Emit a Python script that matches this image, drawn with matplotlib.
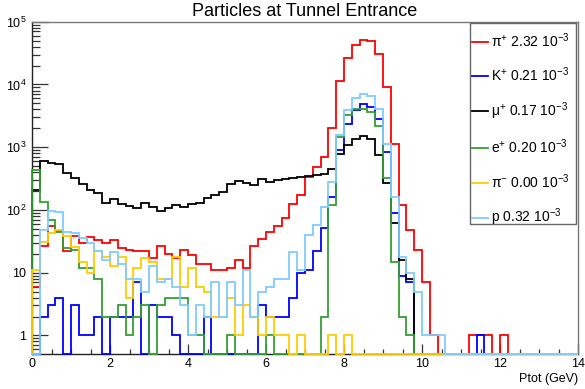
import numpy as np
import matplotlib
matplotlib.use("Agg")
import matplotlib.pyplot as plt
from matplotlib.lines import Line2D
from matplotlib.patches import Rectangle
from matplotlib.ticker import FixedLocator, FixedFormatter, LogLocator, MultipleLocator, NullFormatter

plt.rcParams['font.family'] = ['Liberation Sans', 'DejaVu Sans']
plt.rcParams['mathtext.fontset'] = 'custom'
plt.rcParams['mathtext.rm'] = 'Liberation Sans'
plt.rcParams['mathtext.it'] = 'Liberation Sans:italic'
plt.rcParams['mathtext.bf'] = 'Liberation Sans:bold'

# ---- data: 70 bins of 0.2 GeV from 0 to 14 ----
bin_edges = np.linspace(0, 14, 71)

pi_plus = [6, 27, 55, 47, 22, 38, 30, 37, 33, 30,
           33, 25, 23, 22, 22, 17, 27, 20, 17, 23,
           19, 14, 14, 11, 11, 12, 16, 12, 27, 35,
           45, 55, 75, 125, 173, 338, 488, 701, 2000, 11200,
           26400, 42900, 52000, 48700, 30200, 9000, 1130, 120, 48, 23,
           7, 1, 0, 0, 0, 0, 1, 1, 1, 0,
           1, 0, 0, 0, 0, 0, 0, 0, 0, 0]

k_plus = [0, 2, 3, 4, 0, 3, 1, 1, 2, 0,
          2, 2, 2, 7, 0, 3, 2, 2, 1, 0,
          0, 0, 2, 0, 0, 0, 0, 0, 0, 3,
          2, 2, 2, 4, 10, 11, 22, 51, 163, 900,
          2380, 3900, 4820, 4400, 2800, 830, 88, 9, 7, 0,
          0, 0, 0, 0, 0, 0, 0, 1, 0, 0,
          0, 0, 0, 0, 0, 0, 0, 0, 0, 0]

mu_plus = [208, 606, 565, 537, 391, 320, 255, 205, 184, 130,
           150, 126, 116, 107, 128, 111, 96, 108, 118, 113,
           124, 130, 155, 173, 190, 262, 285, 266, 249, 307,
           281, 299, 307, 318, 338, 351, 359, 370, 455, 770,
           1070, 1350, 1496, 1372, 747, 266, 62, 16, 8, 0,
           0, 0, 0, 0, 0, 0, 0, 0, 0, 0,
           0, 0, 0, 0, 0, 0, 0, 0, 0, 0]

e_plus = [431, 135, 69, 45, 25, 23, 12, 12, 8, 2,
          2, 3, 1, 2, 3, 0, 3, 4, 4, 4,
          1, 1, 0, 0, 0, 1, 0, 0, 0, 0,
          1, 0, 0, 0, 0, 0, 0, 2, 120, 1450,
          3220, 4110, 4110, 3630, 2150, 320, 15, 2, 1, 0,
          0, 0, 0, 0, 0, 0, 0, 0, 0, 0,
          0, 0, 0, 0, 0, 0, 0, 0, 0, 0]

pi_minus = [11, 31, 43, 48, 38, 26, 15, 10, 22, 18,
            13, 18, 4, 12, 17, 15, 8, 8, 18, 6,
            12, 6, 5, 2, 2, 4, 1, 3, 2, 1,
            2, 1, 1, 0, 1, 0, 0, 0, 1, 0,
            1, 0, 0, 0, 0, 0, 0, 0, 0, 0,
            0, 0, 0, 0, 0, 0, 0, 0, 0, 0,
            0, 0, 0, 0, 0, 0, 0, 0, 0, 0]

proton = [0, 48, 95, 92, 45, 43, 36, 30, 22, 16,
          21, 14, 8, 8, 5, 13, 7, 8, 6, 3,
          1, 3, 2, 7, 2, 7, 3, 11, 2, 5,
          6, 8, 8, 21, 11, 40, 58, 113, 281, 1550,
          3960, 6150, 7110, 6450, 4110, 1140, 163, 18, 10, 5,
          1, 1, 1, 0, 0, 0, 0, 0, 0, 0,
          0, 0, 0, 0, 0, 0, 0, 0, 0, 0]

labels = ["π$^{+}$ 2.32 10$^{-3}$", "K$^{+}$ 0.21 10$^{-3}$",
          "μ$^{+}$ 0.17 10$^{-3}$", "e$^{+}$ 0.20 10$^{-3}$",
          "π$^{-}$ 0.00 10$^{-3}$", "p 0.32 10$^{-3}$"]
colors = ["#ff0000", "#0000ff", "#000000", "#33a033", "#ffcc00", "#80ccff"]
series = [pi_plus, k_plus, mu_plus, e_plus, pi_minus, proton]

YMIN, YMAX = 0.5, 1e5

fig = plt.figure(figsize=(5.85, 3.89), dpi=100)
ax = fig.add_axes([32/585, 1-354.3/389, 546/585, 332.6/389])
ax.set_yscale('log')
ax.set_xlim(0, 14)
ax.set_ylim(YMIN, YMAX)

handles = []
for vals, col, lab in zip(series, colors, labels):
    v = np.maximum(np.asarray(vals, dtype=float), YMIN)
    ax.stairs(v, bin_edges, baseline=YMIN, color=col, lw=1.3, clip_on=False, zorder=3)
    handles.append(Line2D([], [], color=col, lw=1.3))

# axes styling (ROOT-like)
for s in ['top', 'right']:
    ax.spines[s].set_color('#777777')
    ax.spines[s].set_linewidth(1.0)
for s in ['left', 'bottom']:
    ax.spines[s].set_color('#222222')
    ax.spines[s].set_linewidth(1.0)
    ax.spines[s].set_zorder(1)

ax.yaxis.set_major_locator(FixedLocator([1, 10, 100, 1e3, 1e4, 1e5]))
ax.yaxis.set_major_formatter(FixedFormatter(['1', '10', '$10^{2}$', '$10^{3}$', '$10^{4}$', '$10^{5}$']))
ax.yaxis.set_minor_locator(LogLocator(base=10, subs=np.arange(2, 10), numticks=20))
ax.yaxis.set_minor_formatter(NullFormatter())
ax.xaxis.set_major_locator(MultipleLocator(2))
ax.xaxis.set_minor_locator(MultipleLocator(0.5))

ax.tick_params(axis='y', which='major', direction='in', length=11.5, width=0.9, color='#333333',
               labelsize=9, pad=4, right=False)
ax.tick_params(axis='y', which='minor', direction='in', length=5.8, width=0.9, color='#333333', right=False)
ax.tick_params(axis='x', which='major', direction='in', length=7, width=0.9, color='#333333',
               labelsize=9, pad=3, top=False)
ax.tick_params(axis='x', which='minor', direction='in', length=3.6, width=0.9, color='#333333', top=False)

fig.text(305/585, 1-16/389, 'Particles at Tunnel Entrance', ha='center', va='baseline', fontsize=13)
fig.text(578/585, 1-382/389, 'Ptot (GeV)', ha='right', va='baseline', fontsize=9)

# legend box (ROOT TLegend look)
def ax_x(px):
    return (px - 32) / 546.0

def ax_y(py):
    return (354.3 - py) / 332.6

box = Rectangle((ax_x(470), ax_y(224)), ax_x(576) - ax_x(470), ax_y(23) - ax_y(224),
                transform=ax.transAxes, facecolor='white', edgecolor='#666666', lw=1.0,
                zorder=4, clip_on=False)
ax.add_patch(box)
leg = ax.legend(handles, labels, loc='upper left',
                bbox_to_anchor=(ax_x(472), ax_y(31)),
                borderaxespad=0, borderpad=0, fontsize=10, handlelength=1.15, handletextpad=0.25,
                labelspacing=1.15, frameon=False)
leg.set_zorder(5)

fig.savefig('out.png', dpi=100)
